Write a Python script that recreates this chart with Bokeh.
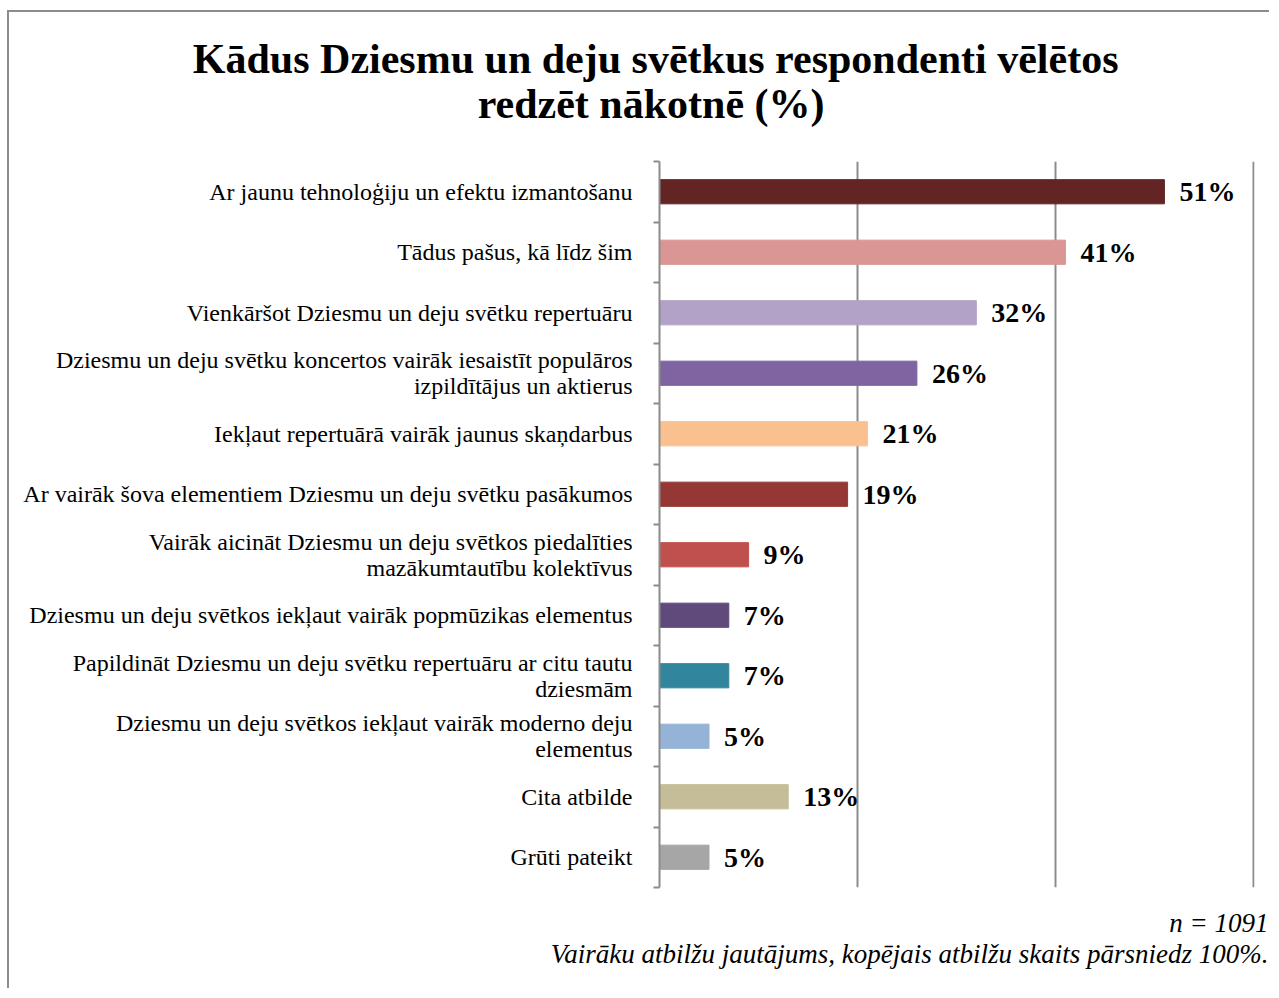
from bokeh.plotting import figure
from bokeh.models import (ColumnDataSource, Range1d, LinearAxis,
                          FixedTicker, LabelSet, Grid, Title)
from bokeh.embed import file_html
from bokeh.resources import INLINE

# ---- data ----
categories = [
    "Ar jaunu tehnoloģiju un efektu izmantošanu",
    "Tādus pašus, kā līdz šim",
    "Vienkāršot Dziesmu un deju svētku repertuāru",
    "Dziesmu un deju svētku koncertos vairāk iesaistīt populāros\nizpildītājus un aktierus",
    "Iekļaut repertuārā vairāk jaunus skaņdarbus",
    "Ar vairāk šova elementiem Dziesmu un deju svētku pasākumos",
    "Vairāk aicināt Dziesmu un deju svētkos piedalīties\nmazākumtautību kolektīvus",
    "Dziesmu un deju svētkos iekļaut vairāk popmūzikas elementus",
    "Papildināt Dziesmu un deju svētku repertuāru ar citu tautu\ndziesmām",
    "Dziesmu un deju svētkos iekļaut vairāk moderno deju\nelementus",
    "Cita atbilde",
    "Grūti pateikt",
]
values = [51, 41, 32, 26, 21, 19, 9, 7, 7, 5, 13, 5]
bar_colors = ["#632523", "#D99694", "#B3A2C7", "#8064A2", "#FAC090", "#953735",
              "#C0504D", "#604A7B", "#31859C", "#95B3D7", "#C4BD97", "#A6A6A6"]
value_labels = [f"{v}%" for v in values]
grid_ticks = [0, 20, 40, 60]

title_line1 = "Kādus Dziesmu un deju svētkus respondenti vēlētos"
title_line2 = "redzēt nākotnē (%)"
note_n = "n = 1091"
note_multi = "Vairāku atbilžu jautājums, kopējais atbilžu skaits pārsniedz 100%."

FONT = "Liberation Serif"
GRAY = "#8C8C8C"

n = len(categories)
pos = [n - 0.5 - i for i in range(n)]          # category centres, first on top
src = ColumnDataSource(dict(y=pos, cat=categories, val=values, color=bar_colors, lab=value_labels))

OX, OY = 9, 12                      # host offset (margin + border)
W, H = 1279 - OX - 8, 998 - OY - 8
p = figure(width=W, height=H, output_backend="svg", toolbar_location=None,
           y_range=Range1d(0, n), x_range=Range1d(0, 60.1),
           x_axis_location=None, y_axis_location=None,
           min_border_left=659 - OX, min_border_right=OX + W - 1254,
           min_border_top=161 - OY, min_border_bottom=OY + H - 887,
           styles={"border-left": f"2px solid {GRAY}", "border-top": f"2px solid {GRAY}",
                   "margin-left": "7px", "margin-top": "10px"})
p.outline_line_color = None
p.background_fill_color = "white"
p.border_fill_color = "white"
p.grid.visible = False

p.hbar(y="y", right="val", left=0, height=0.40, color="color", source=src)

# vertical gridlines
g = Grid(dimension=0, ticker=FixedTicker(ticks=grid_ticks), grid_line_color=GRAY, grid_line_width=2)
p.add_layout(g, "center")

# boundary tick axis (closest to the frame)
bounds = list(range(n + 1))
tick_axis = LinearAxis(ticker=FixedTicker(ticks=bounds),
                       major_label_overrides={b: "" for b in bounds},
                       major_label_standoff=0,
                       axis_line_color=GRAY, axis_line_width=2,
                       major_tick_line_color=GRAY, major_tick_line_width=2,
                       major_tick_out=6, major_tick_in=0, minor_tick_line_color=None)
p.add_layout(tick_axis, "left")

# category label axis
cat_axis = LinearAxis(ticker=FixedTicker(ticks=pos),
                      major_label_overrides={y: c for y, c in zip(pos, categories)},
                      axis_line_color=None, major_tick_line_color=None, minor_tick_line_color=None,
                      major_label_standoff=15,
                      major_label_text_font=FONT, major_label_text_font_size="24px",
                      major_label_text_line_height=1.0,
                      major_label_text_color="black")
p.add_layout(cat_axis, "left")

labels = LabelSet(x="val", y="y", text="lab", source=src, x_offset=15,
                  text_align="left", text_baseline="middle",
                  text_font=FONT, text_font_size="28px", text_font_style="bold", text_color="black")
p.add_layout(labels)

# blank spacer axes (white ticks on white) to leave room between frame and texts
top_spacer = LinearAxis(ticker=FixedTicker(ticks=[59]), major_label_overrides={59: ""},
                        axis_line_color=None, major_tick_line_color="white", minor_tick_line_color=None,
                        major_tick_out=35, major_tick_in=0, major_label_standoff=0)
p.add_layout(top_spacer, "above")
bottom_spacer = LinearAxis(ticker=FixedTicker(ticks=[59]), major_label_overrides={59: ""},
                           axis_line_color=None, major_tick_line_color="white", minor_tick_line_color=None,
                           major_tick_out=20, major_tick_in=0, major_label_standoff=0)
p.add_layout(bottom_spacer, "below")

# title (two lines) above the frame; first added is nearest the frame
p.add_layout(Title(text=title_line2, align="right", offset=430, standoff=0,
                   text_font=FONT, text_font_size="42px", text_font_style="bold",
                   text_color="black"), "above")
p.add_layout(Title(text=title_line1, align="right", offset=136, standoff=-6,
                   text_font=FONT, text_font_size="42px", text_font_style="bold",
                   text_color="black"), "above")

# footnotes below the frame
p.add_layout(Title(text=note_n, align="right", offset=-14, standoff=0, vertical_align="top",
                   text_font=FONT, text_font_size="27px", text_font_style="italic",
                   text_color="black"), "below")
p.add_layout(Title(text=note_multi, align="right", offset=-14, standoff=-2, vertical_align="top",
                   text_font=FONT, text_font_size="27px", text_font_style="italic",
                   text_color="black"), "below")

open("out.html", "w").write(file_html(p, INLINE))
